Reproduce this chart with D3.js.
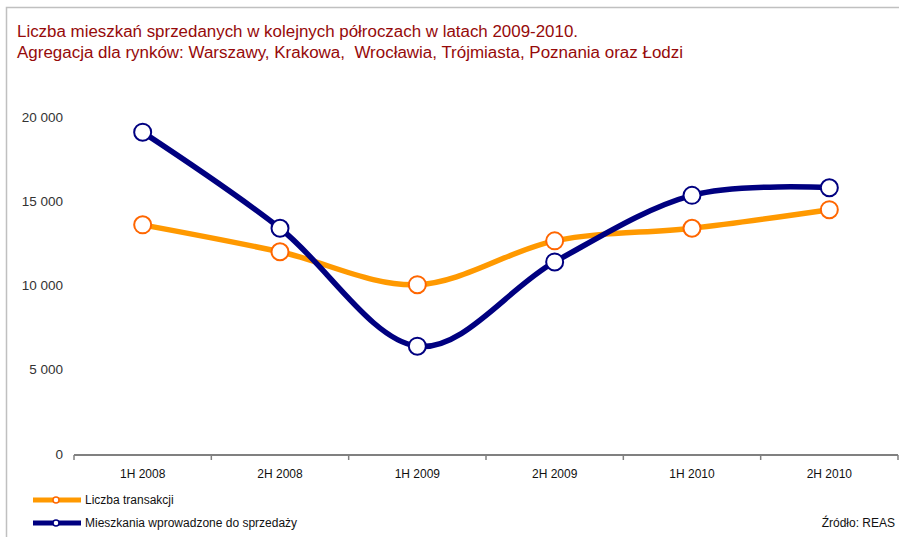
<!DOCTYPE html>
<html>
<head>
<meta charset="utf-8">
<script src="https://cdn.jsdelivr.net/npm/d3@7"></script>
<style>
  body { margin: 0; background: #fff; }
  svg { font-family: "Liberation Sans Narrow", "Liberation Sans", Arial, sans-serif; }
</style>
</head>
<body>
<div id="chart"></div>
<script>
// dane
var polrocza = ["1H 2008", "2H 2008", "1H 2009", "2H 2009", "1H 2010", "2H 2010"];
var transakcje = [13600, 12000, 10050, 12650, 13400, 14500];
var wprowadzone = [19100, 13400, 6400, 11400, 15350, 15800];
var yTicks = [0, 5000, 10000, 15000, 20000];

var width = 899,
    height = 537,
    margin = {left: 74, right: 1, top: 117, bottom: 83};

var svg = d3.select("#chart").append("svg")
    .attr("width", width)
    .attr("height", height);

// ramka
svg.append("path")
    .attr("d", "M6.5," + height + "V7.5H" + width)
    .attr("fill", "none")
    .attr("stroke", "#c0c0c0")
    .attr("stroke-width", 1.5);

// tytul
var title = svg.append("g").attr("fill", "#960a0a").style("font-size", "16px");
title.append("text").attr("x", 17).attr("y", 37)
    .attr("textLength", 561).attr("lengthAdjust", "spacingAndGlyphs")
    .text("Liczba mieszkań sprzedanych w kolejnych półroczach w latach 2009-2010.");
title.append("text").attr("x", 17).attr("y", 58)
    .attr("textLength", 666).attr("lengthAdjust", "spacingAndGlyphs")
    .attr("xml:space", "preserve")
    .text("Agregacja dla rynków: Warszawy, Krakowa,  Wrocławia, Trójmiasta, Poznania oraz Łodzi");

var x = d3.scaleBand()
    .domain(polrocza)
    .range([margin.left, width - margin.right]);

var y = d3.scaleLinear()
    .domain([0, 20000])
    .range([height - margin.bottom, margin.top]);

// os Y - tylko etykiety
svg.append("g")
    .selectAll("text")
    .data(yTicks)
    .enter().append("text")
    .attr("x", 63)
    .attr("y", function (d) { return y(d); })
    .attr("dy", "0.35em")
    .attr("text-anchor", "end")
    .attr("fill", "#333")
    .style("font-family", "Liberation Sans, Arial, sans-serif")
    .style("font-size", "13.5px")
    .text(function (d) { return d3.format(",")(d).replace(",", " "); });

// os X
var xAxis = svg.append("g")
    .attr("transform", "translate(0," + (height - margin.bottom + 1) + ")");
xAxis.append("line")
    .attr("x1", margin.left).attr("x2", width - margin.right)
    .attr("stroke", "#808080").attr("stroke-width", 2);
xAxis.selectAll(".tick")
    .data(polrocza.concat(["end"]))
    .enter().append("line")
    .attr("x1", function (d, i) { return margin.left + i * x.step(); })
    .attr("x2", function (d, i) { return margin.left + i * x.step(); })
    .attr("y1", 0).attr("y2", 5)
    .attr("stroke", "#808080").attr("stroke-width", 1.5);
xAxis.selectAll(".lab")
    .data(polrocza)
    .enter().append("text")
    .attr("x", function (d) { return x(d) + x.bandwidth() / 2; })
    .attr("y", 23)
    .attr("text-anchor", "middle")
    .attr("fill", "#111")
    .style("font-size", "12px")
    .text(function (d) { return d; });

var line = d3.line()
    .x(function (d, i) { return x(polrocza[i]) + x.bandwidth() / 2; })
    .y(function (d) { return y(d); })
    .curve(d3.curveCardinal.tension(0));

function seria(dane, kolor, kolorZnacznika) {
  svg.append("path")
      .datum(dane)
      .attr("d", line)
      .attr("fill", "none")
      .attr("stroke", kolor)
      .attr("stroke-width", 5.5)
      .attr("stroke-linejoin", "round");
  svg.append("g").selectAll("circle")
      .data(dane)
      .enter().append("circle")
      .attr("cx", function (d, i) { return x(polrocza[i]) + x.bandwidth() / 2; })
      .attr("cy", function (d) { return y(d); })
      .attr("r", 8.5)
      .attr("fill", "#fff")
      .attr("stroke", kolorZnacznika)
      .attr("stroke-width", 2);
}

seria(transakcje, "#ff9900", "#ff6600");
seria(wprowadzone, "#000080", "#000080");

// legenda
var legenda = [
  {nazwa: "Liczba transakcji", kolor: "#ff9900", znacznik: "#ff6600"},
  {nazwa: "Mieszkania wprowadzone do sprzedaży", kolor: "#000080", znacznik: "#000080"}
];
var lg = svg.append("g").selectAll("g")
    .data(legenda)
    .enter().append("g")
    .attr("transform", function (d, i) { return "translate(33," + (500 + i * 23) + ")"; });
lg.append("line")
    .attr("x1", 0).attr("x2", 48)
    .attr("stroke", function (d) { return d.kolor; })
    .attr("stroke-width", 5);
lg.append("circle")
    .attr("cx", 23).attr("r", 3)
    .attr("fill", "#fff")
    .attr("stroke", function (d) { return d.znacznik; })
    .attr("stroke-width", 1.5);
lg.append("text")
    .attr("x", 52).attr("dy", "0.35em")
    .attr("fill", "#111")
    .style("font-size", "12px")
    .text(function (d) { return d.nazwa; });

svg.append("text")
    .attr("x", 895).attr("y", 523).attr("dy", "0.35em")
    .attr("text-anchor", "end")
    .attr("fill", "#111")
    .style("font-size", "12px")
    .text("Źródło: REAS");
</script>
</body>
</html>
